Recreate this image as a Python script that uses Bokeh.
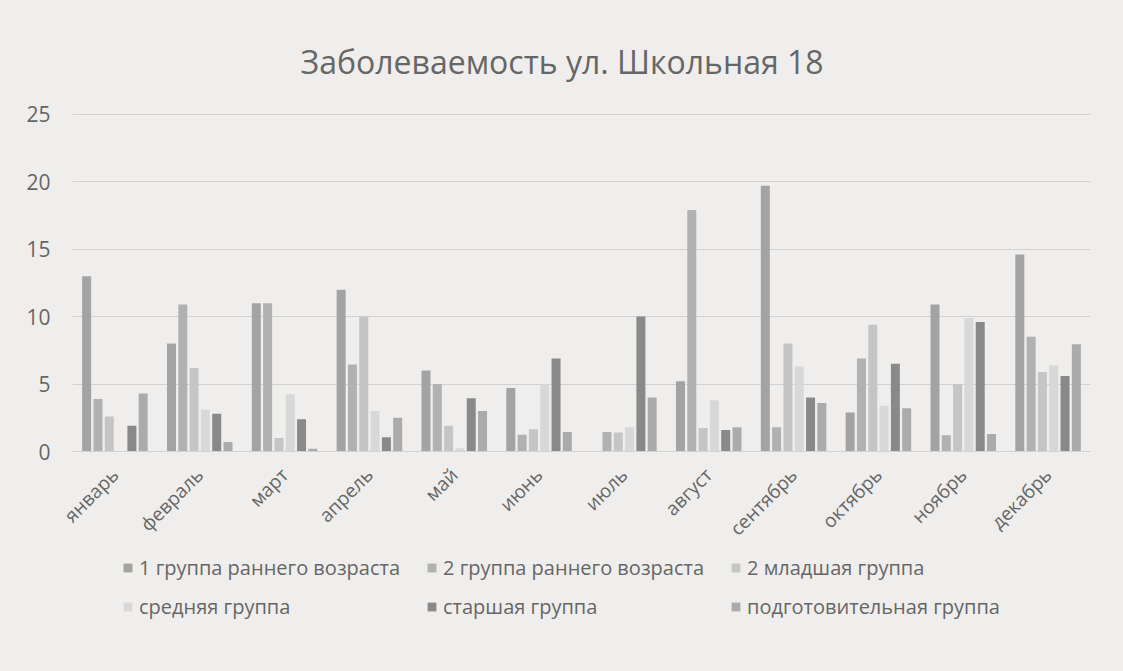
from bokeh.plotting import figure
from bokeh.models import ColumnDataSource, FixedTicker, Legend, LegendItem, Range1d
from bokeh.transform import dodge
from bokeh.layouts import column
from bokeh.embed import file_html
from bokeh.resources import INLINE
import math

months = ["январь", "февраль", "март", "апрель", "май", "июнь",
          "июль", "август", "сентябрь", "октябрь", "ноябрь", "декабрь"]

series_names = ["1 группа раннего возраста", "2 группа раннего возраста",
                "2 младшая группа", "средняя группа", "старшая группа",
                "подготовительная группа"]

g1_early = [13, 8, 11, 12, 6, 4.7, 0, 5.2, 19.7, 2.9, 10.9, 14.6]
g2_early = [3.9, 10.9, 11, 6.45, 5.0, 1.25, 1.45, 17.9, 1.8, 6.9, 1.2, 8.5]
g2_junior = [2.6, 6.2, 1.0, 10, 1.9, 1.65, 1.4, 1.75, 8.0, 9.4, 5.0, 5.9]
g_middle = [0, 3.1, 4.25, 3.0, 0.25, 5.0, 1.8, 3.8, 6.3, 3.4, 9.9, 6.4]
g_senior = [1.9, 2.8, 2.4, 1.06, 3.95, 6.9, 10, 1.6, 4.0, 6.5, 9.6, 5.6]
g_prep = [4.3, 0.7, 0.2, 2.5, 3.0, 1.45, 4.0, 1.8, 3.6, 3.2, 1.3, 7.95]

y_ticks = [0, 5, 10, 15, 20, 25]

colors = ["#a3a3a3", "#b1b1b1", "#c5c5c5", "#d8d8d8", "#898989", "#ababab"]

cols = ["s1", "s2", "s3", "s4", "s5", "s6"]
source = ColumnDataSource(dict(months=months, s1=g1_early, s2=g2_early, s3=g2_junior,
                               s4=g_middle, s5=g_senior, s6=g_prep))

BG = "#efeeec"
TXT = "#666666"
FONT = "Open Sans"

p = figure(x_range=months, y_range=Range1d(0, 25.06), width=1108, height=553,
           output_backend="svg", toolbar_location=None,
           title="Заболеваемость ул. Школьная 18")
p.background_fill_color = BG
p.border_fill_color = BG
p.outline_line_color = None
p.min_border_left = 72
p.min_border_right = 18
p.min_border_top = 113
p.min_border_bottom = 101

p.title.text_font = FONT
p.title.text_font_size = "32px"
p.title.text_font_style = "normal"
p.title.text_color = TXT
p.title.align = "left"
p.title.offset = 228
p.title.standoff = 61

pitch = 0.1333
width = 0.106
for i, (c, col) in enumerate(zip(cols, colors)):
    p.vbar(x=dodge("months", (i - 2.5) * pitch, range=p.x_range), top=c,
           width=width, source=source, fill_color=col, line_color=None)

p.x_range.range_padding = 0
p.xgrid.grid_line_color = None
p.ygrid.grid_line_color = "#d2d2d2"
p.ygrid.grid_line_width = 1

p.yaxis.ticker = FixedTicker(ticks=y_ticks)
p.yaxis.axis_line_color = None
p.yaxis.major_tick_line_color = None
p.yaxis.minor_tick_line_color = None
p.yaxis.major_label_standoff = 16
p.yaxis.major_label_text_font = FONT
p.yaxis.major_label_text_font_size = "21px"
p.yaxis.major_label_text_color = TXT

p.xaxis.axis_line_color = "#d2d2d2"
p.xaxis.major_tick_line_color = None
p.xaxis.minor_tick_line_color = None
p.xaxis.major_label_orientation = math.pi / 4
p.xaxis.major_label_standoff = 14
p.xaxis.major_label_text_font = FONT
p.xaxis.major_label_text_font_size = "19px"
p.xaxis.major_label_text_color = TXT

# legend panel below the chart
lg = figure(width=1108, height=107, output_backend="svg", toolbar_location=None,
            x_range=Range1d(0, 1), y_range=Range1d(0, 1),
            x_axis_location=None, y_axis_location=None)
lg.background_fill_color = BG
lg.border_fill_color = BG
lg.outline_line_color = None
lg.grid.grid_line_color = None
lg.min_border_left = 72
lg.min_border_top = 0
lg.min_border_right = 18
lg.min_border_bottom = 0

items = []
for name, col in zip(series_names, colors):
    r = lg.vbar(x=[0.5], top=[0], width=0.01, fill_color=col, line_color=None)
    items.append(LegendItem(label=name, renderers=[r]))

legend = Legend(items=items, orientation="horizontal", ncols=3,
                label_text_font=FONT, label_text_font_size="20px",
                label_text_color=TXT, glyph_width=11, glyph_height=11,
                label_standoff=6, spacing=12, label_width=275,
                background_fill_alpha=0, border_line_color=None,
                location=(50, 40), margin=0, padding=10)
lg.add_layout(legend, "center")

html = file_html(column(p, lg), INLINE)
html = html.replace("<head>", "<head><style>body{background:%s;}</style>" % BG, 1)
open("out.html", "w").write(html)
